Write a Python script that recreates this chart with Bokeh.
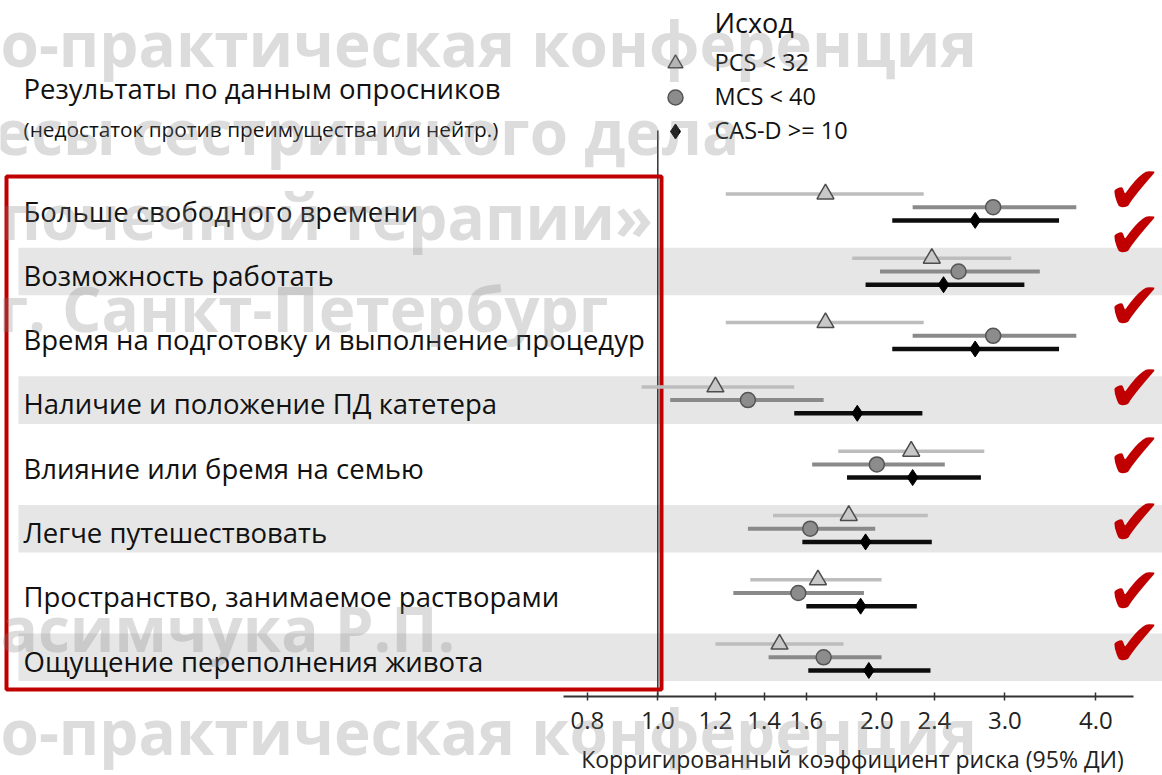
import math

from bokeh.core.properties import value
from bokeh.embed import file_html
from bokeh.models import ColumnDataSource, FixedTicker, Label, PrintfTickFormatter, Range1d
from bokeh.plotting import figure
from bokeh.resources import INLINE

# ---------------------------------------------------------------- data
categories = [
    "Больше свободного времени",
    "Возможность работать",
    "Время на подготовку и выполнение процедур",
    "Наличие и положение ПД катетера",
    "Влияние или бремя на семью",
    "Легче путешествовать",
    "Пространство, занимаемое растворами",
    "Ощущение переполнения живота",
]

# adjusted hazard ratios with 95% CI, one value per category
pcs_est = [1.70, 2.38, 1.70, 1.20, 2.23, 1.83, 1.66, 1.47]
pcs_lo = [1.24, 1.85, 1.24, 0.95, 1.77, 1.44, 1.34, 1.20]
pcs_hi = [2.32, 3.06, 2.32, 1.54, 2.81, 2.35, 2.03, 1.80]

mcs_est = [2.89, 2.59, 2.89, 1.33, 2.00, 1.62, 1.56, 1.69]
mcs_lo = [2.24, 2.02, 2.24, 1.04, 1.63, 1.33, 1.27, 1.42]
mcs_hi = [3.76, 3.35, 3.76, 1.69, 2.48, 1.99, 1.92, 2.03]

cas_est = [2.73, 2.47, 2.73, 1.88, 2.24, 1.93, 1.90, 1.95]
cas_lo = [2.10, 1.93, 2.10, 1.54, 1.82, 1.58, 1.60, 1.61]
cas_hi = [3.56, 3.19, 3.56, 2.31, 2.78, 2.38, 2.27, 2.37]

series_names = ["PCS < 32", "MCS < 40", "CAS-D >= 10"]
tick_values = [0.8, 1.0, 1.2, 1.4, 1.6, 2.0, 2.4, 3.0, 4.0]

title_text = "Результаты по данным опросников"
subtitle_text = "(недостаток против преимущества или нейтр.)"
legend_title = "Исход"
x_title = "Корригированный коэффициент риска (95% ДИ)"

watermark_lines = [
    "о-практическая конференция",
    "есы сестринского дела",
    "почечной терапии»",
    "г. Санкт-Петербург",
    "асимчука Р.П.",
    "о-практическая конференция",
]

# ---------------------------------------------------------------- layout
W, H = 1162, 775
FONT = "Open Sans"
X_ONE_PX = 657.3      # canvas x where the ratio equals 1.0
PX_PER_LN = 316.0     # log-axis stretch
ROW0_PX = 206.7       # canvas y of the first row
ROW_PX = 64.3         # row pitch
AXIS_PX = 696         # canvas y of the x axis line


def sx(px):
    """canvas x -> ratio value on the log axis"""
    return math.exp((px - X_ONE_PX) / PX_PER_LN)


def sy(py):
    """canvas y -> row coordinate"""
    return (py - ROW0_PX) / ROW_PX


p = figure(
    width=W, height=H,
    x_axis_type="log",
    x_range=Range1d(sx(0), sx(W)),
    y_range=Range1d(sy(H), sy(0)),
    output_backend="svg", toolbar_location=None,
    min_border=0,
    background_fill_color="white", border_fill_color="white",
)
p.outline_line_color = None
p.grid.visible = False
p.yaxis.visible = False

rows = list(range(len(categories)))

# alternating row bands
band_rows = [r for r in rows if r % 2 == 1]
p.quad(left=sx(18), right=sx(W + 10),
       top=[r - 0.37 for r in band_rows], bottom=[r + 0.37 for r in band_rows],
       fill_color="#e6e6e6", line_color=None)

# reference line at ratio 1
p.segment(x0=[1.0], x1=[1.0], y0=[sy(130)], y1=[sy(AXIS_PX)],
          line_color="#333333", line_width=1.5)

# framed block around the category labels
p.quad(left=[sx(6)], right=[sx(661)], top=[sy(176)], bottom=[sy(689)],
       fill_color=None, line_color="#c00000", line_width=4)

# category labels
lab_src = ColumnDataSource(dict(x=[sx(23)] * len(categories),
                                y=[r + 0.06 for r in rows], text=categories))
p.text(x="x", y="y", text="text", source=lab_src, text_font=value(FONT),
       text_font_size=value("27.5px"), text_baseline="middle", text_color="#111111")

# CI lines and point estimates
OFF = 0.205
pcs_y = [r - OFF for r in rows]
mcs_y = list(rows)
cas_y = [r + OFF for r in rows]

p.segment(x0=pcs_lo, x1=pcs_hi, y0=pcs_y, y1=pcs_y, line_color="#bdbdbd", line_width=3.5)
p.segment(x0=mcs_lo, x1=mcs_hi, y0=mcs_y, y1=mcs_y, line_color="#8a8a8a", line_width=4)
p.segment(x0=cas_lo, x1=cas_hi, y0=cas_y, y1=cas_y, line_color="#0d0d0d", line_width=4.5)

p.scatter(x=pcs_est, y=pcs_y, marker="triangle", size=17, fill_color="#c8c8c8",
          line_color="#4d4d4d", line_width=1.5)
p.scatter(x=mcs_est, y=mcs_y, marker="circle", size=15, fill_color="#8c8c8c",
          line_color="#555555", line_width=1.5)
p.scatter(x=cas_est, y=cas_y, marker="diamond", size=16, fill_color="#000000",
          line_color="#000000", line_width=1)

# check marks on the right
chk_y = [190, 235, 306, 388, 456, 522, 591, 643]
p.text(x=[sx(1134)] * len(chk_y), y=[sy(v) for v in chk_y], text=["✔"] * len(chk_y),
       text_font=value("DejaVu Sans"), text_font_size=value("66px"),
       text_align="center", text_baseline="middle", text_color="#c00000")

# headings
p.text(x=[sx(23)], y=[sy(88)], text=[title_text], text_font=value(FONT),
       text_font_size=value("27.5px"), text_baseline="middle", text_color="#111111")
p.text(x=[sx(23)], y=[sy(128)], text=[subtitle_text], text_font=value(FONT),
       text_font_size=value("20.8px"), text_baseline="middle", text_color="#111111")

# legend
p.text(x=[sx(714)], y=[sy(22)], text=[legend_title], text_font=value(FONT),
       text_font_size=value("27px"), text_baseline="middle", text_color="#111111")
leg_y = [63, 97, 131]
p.scatter(x=[sx(675)], y=[sy(leg_y[0])], marker="triangle", size=15, fill_color="#c8c8c8",
          line_color="#4d4d4d", line_width=1.5)
p.scatter(x=[sx(675)], y=[sy(leg_y[1])], marker="circle", size=15, fill_color="#8c8c8c",
          line_color="#555555", line_width=1.5)
p.scatter(x=[sx(675)], y=[sy(leg_y[2])], marker="diamond", size=15, fill_color="#000000",
          line_color="#000000")
leg_src = ColumnDataSource(dict(x=[sx(714)] * 3, y=[sy(v) - 0.03 for v in leg_y],
                                text=series_names))
p.text(x="x", y="y", text="text", source=leg_src, text_font=value(FONT),
       text_font_size=value("23.5px"), text_baseline="middle", text_color="#111111")

# x axis, pinned at the bottom of the rows
ax = p.xaxis[0]
ax.fixed_location = sy(AXIS_PX)
ax.ticker = FixedTicker(ticks=tick_values)
ax.formatter = PrintfTickFormatter(format="%.1f")
ax.bounds = (sx(563), sx(1133))
ax.axis_line_color = "#333333"
ax.axis_line_width = 2
ax.major_tick_line_color = "#333333"
ax.major_tick_line_width = 1.5
ax.major_tick_in = 4
ax.major_tick_out = 4
ax.minor_tick_line_color = None
ax.major_label_text_font = FONT
ax.major_label_text_font_size = "24px"
ax.major_label_text_color = "#222222"
ax.major_label_standoff = 11

p.text(x=[sx(852)], y=[sy(758)], text=[x_title], text_font=value(FONT),
       text_font_size=value("23px"), text_align="center", text_baseline="middle",
       text_color="#222222")

# watermark overlay
wm_y = [42, 130, 215, 307, 627, 730]
wm_x = [0, -6, 0, -2, 0, 0]
for txt, wx, wy in zip(watermark_lines, wm_x, wm_y):
    p.add_layout(Label(x=sx(wx), y=sy(wy), text=txt, text_font=FONT,
                       text_font_style="bold", text_font_size="62px",
                       text_color="#808080", text_alpha=0.28,
                       text_baseline="middle"))

open("out.html", "w").write(file_html(p, INLINE))
